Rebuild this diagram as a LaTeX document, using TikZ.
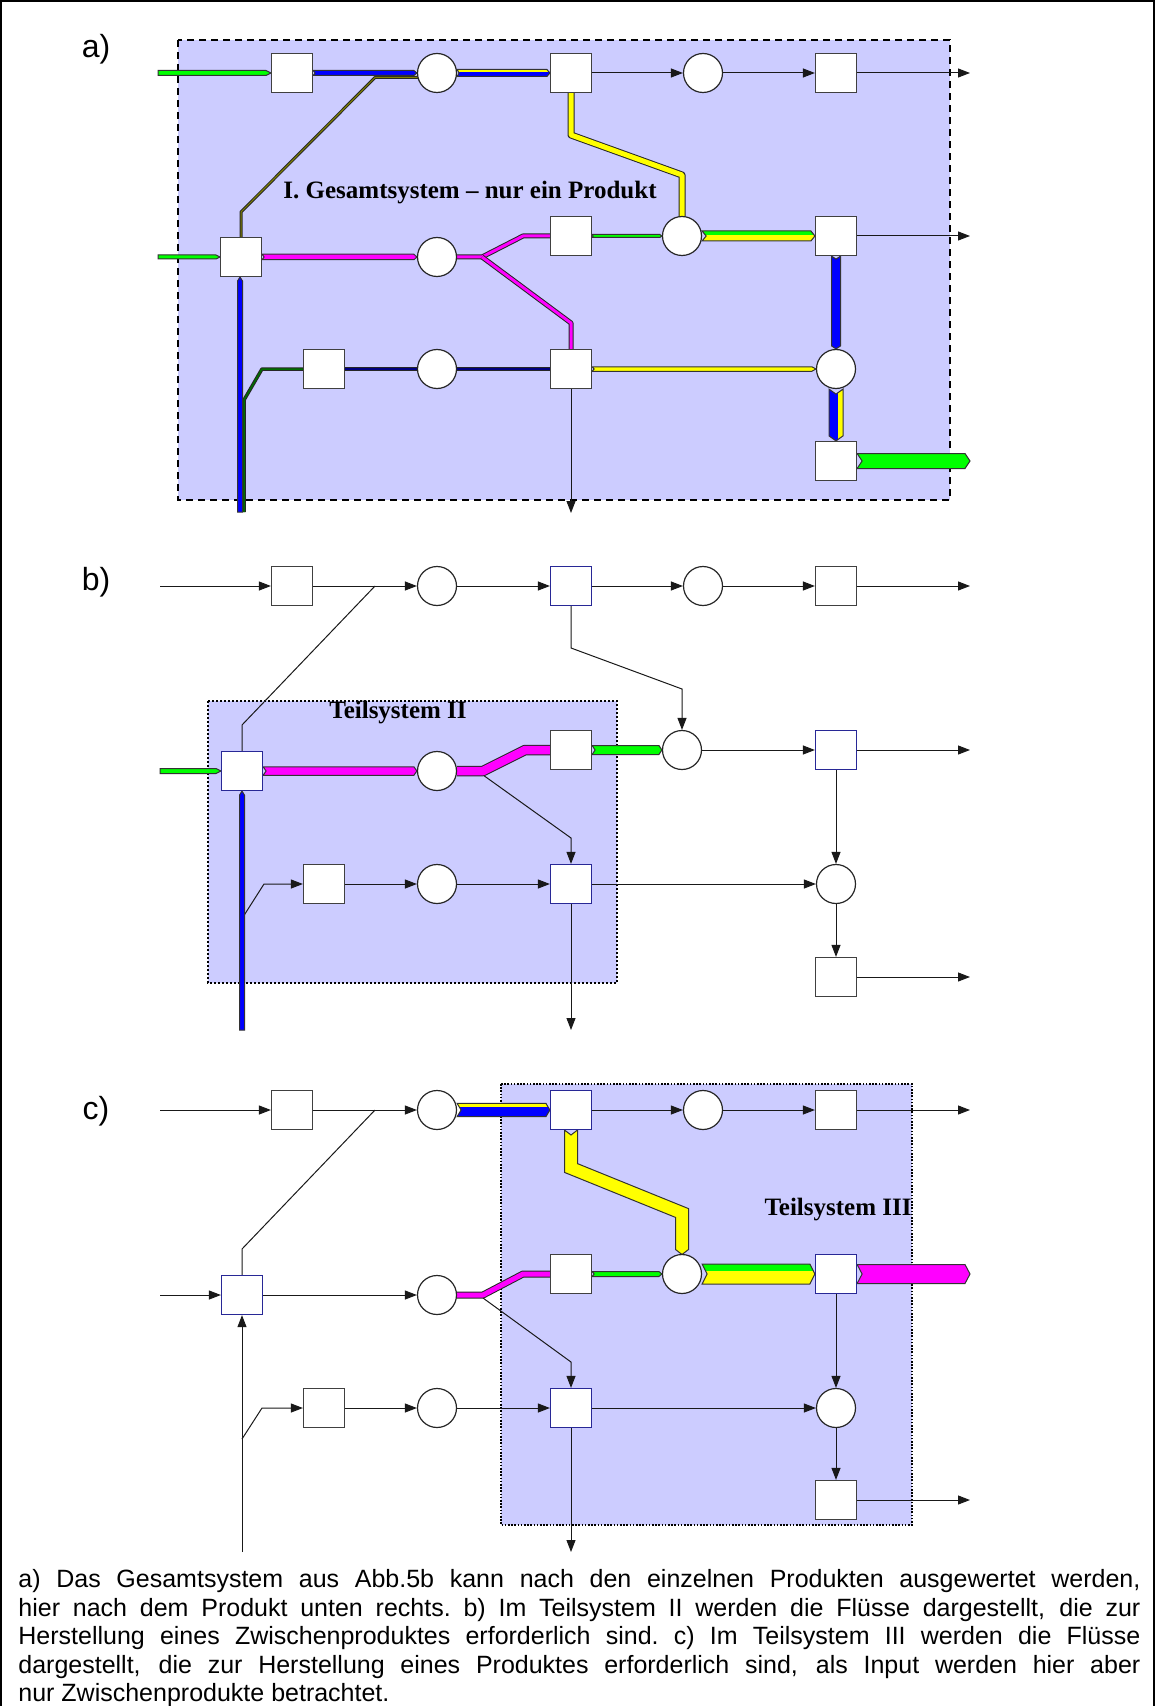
\documentclass[tikz,border=0pt]{standalone}
\usepackage{fontspec}
\setmainfont{Liberation Sans}
\newfontfamily\titlefont{Liberation Serif}
\usetikzlibrary{arrows.meta,calc}
\pgfdeclarelayer{bg}
\pgfdeclarelayer{mid}
\pgfsetlayers{bg,mid,main}

\definecolor{boxfill}{RGB}{204,204,255}
\definecolor{fgreen}{RGB}{0,255,0}
\definecolor{fblue}{RGB}{0,0,255}
\definecolor{fyellow}{RGB}{255,255,0}
\definecolor{fmagenta}{RGB}{255,0,255}
\definecolor{fnavy}{RGB}{0,0,128}
\definecolor{fdkgreen}{RGB}{0,110,0}
\definecolor{folive}{RGB}{130,130,0}
\definecolor{navyedge}{RGB}{40,40,150}

% horizontal flow band: from, to, width, tail notch, head point
\newcommand\hbpath[5]{($(#1)+(0,-#3/2)$) -- ($(#2)+(-#5,-#3/2)$) -- (#2) -- ($(#2)+(-#5,#3/2)$) -- ($(#1)+(0,#3/2)$) -- ($(#1)+(#4,0)$) -- cycle}
% vertical flow band: from, to, width, tail notch, head point (negative for upward)
\newcommand\vbpath[5]{($(#1)+(-#3/2,0)$) -- ($(#2)+(-#3/2,{-(#5)})$) -- (#2) -- ($(#2)+(#3/2,{-(#5)})$) -- ($(#1)+(#3/2,0)$) -- ($(#1)+(0,{#4})$) -- cycle}

\newcommand\hband[6]{\filldraw[band,fill=#1] \hbpath{#2}{#3}{#4}{#5}{#6};}
\newcommand\vband[6]{\filldraw[band,fill=#1] \vbpath{#2}{#3}{#4}{#5}{#6};}
% two-coloured horizontal band: top colour, bottom colour, from, to, width, notch, point, top stripe
\newcommand\hbandtwo[8]{%
  \begin{scope}
    \clip \hbpath{#3}{#4}{#5}{#6}{#7};
    \fill[#2] ($(#3)+(0,-#5)$) rectangle ($(#4)+(0,#5)$);
    \fill[#1] ($(#3)+(0,-#5)$) rectangle ($(#4)+(0,-#5/2+#8)$);
  \end{scope}
  \draw[band] \hbpath{#3}{#4}{#5}{#6}{#7};}
% two-coloured vertical band: left colour, right colour, from, to, width, notch, point, left stripe
\newcommand\vbandtwo[8]{%
  \begin{scope}
    \clip \vbpath{#3}{#4}{#5}{#6}{#7};
    \fill[#2] ($(#3)+(-#5,0)$) rectangle ($(#4)+(#5,0)$);
    \fill[#1] ($(#3)+(-#5,0)$) rectangle ($(#4)+(-#5/2+#8,0)$);
  \end{scope}
  \draw[band] \vbpath{#3}{#4}{#5}{#6}{#7};}
% bent band drawn as an outlined stroke: colour, width, path
\newcommand\bentband[3]{%
  \draw[line width={(#2+2)*0.5pt}, black!85, line join=round] #3;
  \draw[line width={#2*0.5pt}, #1, line join=round] #3;}

\begin{document}
\begin{tikzpicture}[x=0.5pt,y=-0.5pt,
  sq/.style={rectangle, draw=black!75, fill=white, line width=0.6pt,
    minimum width=20.5pt, minimum height=19.5pt, inner sep=0pt},
  bsq/.style={sq, draw=navyedge},
  ci/.style={circle, draw=black!85, fill=white, line width=0.6pt,
    minimum size=19.5pt, inner sep=0pt},
  arr/.style={draw=black!90, line width=0.5pt, -{Triangle[length=6pt,width=4.5pt]}},
  link/.style={draw=black!90, line width=0.5pt},
  band/.style={draw=black!80, line width=0.5pt},
  lbl/.style={font=\fontsize{16}{18}\selectfont, inner sep=0pt},
  ttl/.style={font=\titlefont\bfseries\fontsize{12.5}{14}\selectfont, inner sep=0pt}]
\useasboundingbox (0,0) rectangle (1155,1706);

% outer frame
\draw[line width=0.6pt] (1,1706) -- (1,1) -- (1154,1) -- (1154,1706);

% system boundaries
\begin{pgfonlayer}{bg}
\filldraw[fill=boxfill, draw=black, line width=1.3pt, dash pattern=on 3.5pt off 2.5pt] (178,40) rectangle (950,500);
\filldraw[fill=boxfill, draw=black, line width=1.3pt, dash pattern=on 1pt off 1pt] (208,701) rectangle (617,983);
\filldraw[fill=boxfill, draw=black, line width=0.8pt, dash pattern=on 0.8pt off 0.8pt] (501,1084) rectangle (912,1525);
\end{pgfonlayer}

% labels and titles
\node[lbl] (la) at (96,49) {a)};
\node[lbl] (lb) at (96,582) {b)};
\node[lbl] (lc) at (96,1111) {c)};
\node[ttl] (ta) at (470,193) {I. Gesamtsystem – nur ein Produkt};
\node[ttl] (tb) at (398,713) {Teilsystem II};
\node[ttl] (tc) at (838,1210) {Teilsystem III};

% ---------------- panel a: nodes
\node[sq] (a11) at (292,73) {};
\node[ci] (a12) at (437,73) {};
\node[sq] (a13) at (571,73) {};
\node[ci] (a14) at (703,73) {};
\node[sq] (a15) at (836,73) {};
\node[sq] (a21) at (241,257) {};
\node[ci] (a22) at (437,257) {};
\node[sq] (a23) at (571,236) {};
\node[ci] (a24) at (682,236) {};
\node[sq] (a25) at (836,236) {};
\node[sq] (a31) at (324,369) {};
\node[ci] (a32) at (437,369) {};
\node[sq] (a33) at (571,369) {};
\node[ci] (a34) at (836,369) {};
\node[sq] (a35) at (836,461) {};

% ---------------- panel b: nodes
\node[sq] (b11) at (292,586) {};
\node[ci] (b12) at (437,586) {};
\node[bsq] (b13) at (571,586) {};
\node[ci] (b14) at (703,586) {};
\node[sq] (b15) at (836,586) {};
\node[bsq] (b21) at (242,771) {};
\node[ci] (b22) at (437,771) {};
\node[sq] (b23) at (571,750) {};
\node[ci] (b24) at (682,750) {};
\node[bsq] (b25) at (836,750) {};
\node[sq] (b31) at (324,884) {};
\node[ci] (b32) at (437,884) {};
\node[bsq] (b33) at (571,884) {};
\node[ci] (b34) at (836,884) {};
\node[sq] (b35) at (836,977) {};

% ---------------- panel c: nodes
\node[sq] (c11) at (292,1110) {};
\node[ci] (c12) at (437,1110) {};
\node[bsq] (c13) at (571,1110) {};
\node[ci] (c14) at (703,1110) {};
\node[sq] (c15) at (836,1110) {};
\node[bsq] (c21) at (242,1295) {};
\node[ci] (c22) at (437,1295) {};
\node[sq] (c23) at (571,1274) {};
\node[ci] (c24) at (682,1274) {};
\node[bsq] (c25) at (836,1274) {};
\node[sq] (c31) at (324,1408) {};
\node[ci] (c32) at (437,1408) {};
\node[bsq] (c33) at (571,1408) {};
\node[ci] (c34) at (836,1408) {};
\node[sq] (c35) at (836,1500) {};

% free ends
\coordinate (ina1) at (158,73);
\coordinate (ina2) at (158,257);
\coordinate (outa1) at (970,73);
\coordinate (outa2) at (970,236);
\coordinate (outa3) at (571,513);
\coordinate (outa4) at (970,461);
\coordinate (inb1) at (160,586);
\coordinate (inb2) at (160,771);
\coordinate (invb) at (242,1030);
\coordinate (jb1) at (375,586);
\coordinate (jb2) at (483,775);
\coordinate (brb) at (243,917);
\coordinate (outb1) at (970,586);
\coordinate (outb2) at (970,750);
\coordinate (outb3) at (970,977);
\coordinate (outb4) at (571,1030);
\coordinate (inc1) at (160,1110);
\coordinate (inc2) at (160,1295);
\coordinate (inc3) at (242,1552);
\coordinate (jc1) at (375,1110);
\coordinate (jc2) at (483,1298);
\coordinate (brc) at (242,1439);
\coordinate (outc1) at (970,1110);
\coordinate (outc2) at (970,1274);
\coordinate (outc3) at (970,1500);
\coordinate (outc4) at (571,1552);

\begin{pgfonlayer}{mid}
% ---------------- panel a: flows
\hband{fgreen}{ina1}{a11.west}{5}{0}{5}
\hband{fblue}{a11.east}{a12.west}{5}{2}{3}
\bentband{folive}{1}{(a21) -- (241,212) -- (375,77.5) -- (430,77.5)}
\hbandtwo{fyellow}{fblue}{a12.east}{a13.west}{7}{2}{3}{2.5}
\bentband{fyellow}{5}{(a13) -- (571,135) -- (682,175) -- (a24)}
\draw[arr] (a13) -- (a14);
\draw[arr] (a14) -- (a15);
\draw[arr] (a15) -- (outa1);
\hband{fgreen}{ina2}{a21.west}{4}{0}{4}
\hband{fmagenta}{a21.east}{a22.west}{5.5}{2}{3}
\bentband{fmagenta}{3}{(a22) -- (482,257) -- (523,236) -- (a23)}
\bentband{fmagenta}{3}{(482,257) -- (571,323) -- (a33)}
\hband{fgreen}{a23.east}{a24.west}{3}{1}{2}
\hbandtwo{fgreen}{fyellow}{a24.east}{a25.west}{10}{4}{4}{4}
\draw[arr] (a25) -- (outa2);
\vband{fblue}{a25.south}{a34.north}{9}{3}{3}
\bentband{fnavy}{1.5}{(a31) -- (a32)}
\bentband{fnavy}{1.5}{(a32) -- (a33)}
\hband{fyellow}{a33.east}{a34.west}{4.5}{2}{4}
\vbandtwo{fblue}{fyellow}{a34.south}{a35.north}{14}{5}{5}{9}
\hband{fgreen}{a35.east}{outa4}{15}{5}{5}
\draw[arr] (a33) -- (outa3);
\bentband{fdkgreen}{1.5}{(244,512) -- (244,400) -- (262,369) -- (a31)}
\filldraw[band,fill=fblue] (237.5,512) -- (237.5,281) -- (240,277) -- (242.5,281) -- (242.5,512) -- cycle;

% ---------------- panel b: flows
\draw[arr] (inb1) -- (b11);
\draw[arr] (b11) -- (b12);
\draw[link] (b21) -- (242,725) -- (jb1);
\draw[arr] (b12) -- (b13);
\draw[arr] (b13) -- (b14);
\draw[arr] (b14) -- (b15);
\draw[arr] (b15) -- (outb1);
\draw[arr] (b13) -- (571,648) -- (682,689) -- (b24);
\hband{fgreen}{inb2}{b21.west}{5}{0}{5}
\hband{fmagenta}{b21.east}{b22.west}{8.5}{3}{3}
\draw[arr] (jb2) -- (571,838) -- (b33);
\bentband{fmagenta}{8.5}{(b22) -- (483,771) -- (525,750) -- (b23)}
\hband{fgreen}{b23.east}{b24.west}{9}{3}{3}
\draw[arr] (b24) -- (b25);
\draw[arr] (b25) -- (outb2);
\draw[arr] (b25) -- (b34);
\draw[arr] (brb) -- (264,884) -- (b31);
\vband{fblue}{invb}{b21.south}{5}{0}{-4}
\draw[arr] (b31) -- (b32);
\draw[arr] (b32) -- (b33);
\draw[arr] (b33) -- (b34);
\draw[arr] (b34) -- (b35);
\draw[arr] (b35) -- (outb3);
\draw[arr] (b33) -- (outb4);

% ---------------- panel c: flows
\draw[arr] (inc1) -- (c11);
\draw[arr] (c11) -- (c12);
\draw[link] (c21) -- (242,1249) -- (jc1);
\hbandtwo{fyellow}{fblue}{c12.east}{c13.west}{13.4}{4}{4}{4}
\draw[arr] (c13) -- (c14);
\draw[arr] (c14) -- (c15);
\draw[arr] (c15) -- (outc1);
\filldraw[band, fill=fyellow] (564.5,1130) -- (571,1135) -- (577.5,1130)
  -- (577.5,1163.6) -- (688.5,1208.6) -- (688.5,1249.5) -- (682,1254.5)
  -- (675.5,1249.5) -- (675.5,1217.4) -- (564.5,1172.4) -- cycle;
\draw[arr] (inc2) -- (c21);
\draw[arr] (c21) -- (c22);
\draw[arr] (inc3) -- (c21);
\draw[arr] (jc2) -- (571,1362) -- (c33);
\bentband{fmagenta}{5}{(c22) -- (483,1295) -- (523,1274) -- (c23)}
\hband{fgreen}{c23.east}{c24.west}{5}{2}{3}
\hbandtwo{fgreen}{fyellow}{c24.east}{c25.west}{20}{5}{5}{7}
\hband{fmagenta}{c25.east}{outc2}{19}{5}{5}
\draw[arr] (c25) -- (c34);
\draw[arr] (brc) -- (262,1408) -- (c31);
\draw[arr] (c31) -- (c32);
\draw[arr] (c32) -- (c33);
\draw[arr] (c33) -- (c34);
\draw[arr] (c34) -- (c35);
\draw[arr] (c35) -- (outc3);
\draw[arr] (c33) -- (outc4);
\end{pgfonlayer}

% caption
\node[anchor=north west, inner sep=0pt, align=left, font=\fontsize{12.5}{14.3}\selectfont] (cap) at (18,1569) {%
\makebox[561pt][s]{a) Das Gesamtsystem aus Abb.5b kann nach den einzelnen Produkten ausgewertet werden,}\\
\makebox[561pt][s]{hier nach dem Produkt unten rechts.\ b) Im Teilsystem II werden die Flüsse dargestellt, die zur}\\
\makebox[561pt][s]{Herstellung eines Zwischenproduktes erforderlich sind.\ c) Im Teilsystem III werden die Flüsse}\\
\makebox[561pt][s]{dargestellt, die zur Herstellung eines Produktes erforderlich sind, als Input werden hier aber}\\
nur Zwischenprodukte betrachtet.};
\end{tikzpicture}
\end{document}
